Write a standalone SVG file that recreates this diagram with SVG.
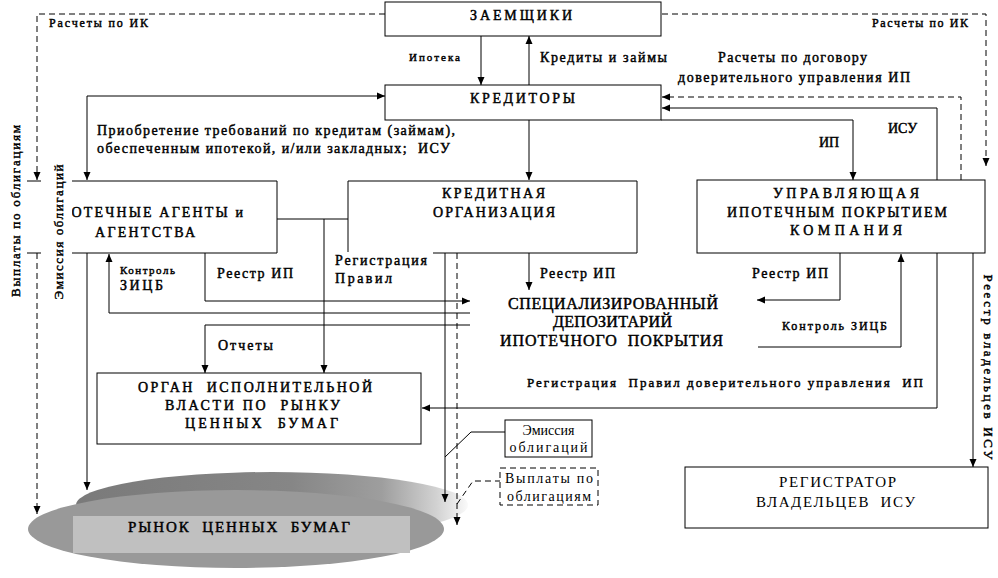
<svg xmlns="http://www.w3.org/2000/svg" width="998" height="578" viewBox="0 0 998 578">
<style>
.t{font-family:"Liberation Serif","Times New Roman","DejaVu Serif",serif;font-weight:normal;fill:#000;stroke:#000;stroke-width:0.45;white-space:pre}
.n{stroke:none}
.s11{font-size:11px}.s12{font-size:12px}.s13{font-size:13px}.s14{font-size:14px}.s15{font-size:15px}.s16{font-size:16px}
.ln{fill:none;stroke:#000;stroke-width:1}
.d{stroke-dasharray:6,4}
.box{fill:#fff;stroke:#000;stroke-width:1}
</style>
<defs>
<marker id="a" viewBox="0 0 8 8" refX="8" refY="4" markerWidth="8" markerHeight="8" markerUnits="userSpaceOnUse" orient="auto-start-reverse"><path d="M0,0.5L8,4L0,7.5z" fill="#000"/></marker>
<linearGradient id="g3d" x1="0" y1="0" x2="1" y2="0">
<stop offset="0" stop-color="#7a7a7a"/><stop offset="0.55" stop-color="#868686"/><stop offset="0.78" stop-color="#9e9e9e"/><stop offset="0.92" stop-color="#d2d2d2"/><stop offset="1" stop-color="#fafafa"/>
</linearGradient>
</defs>
<rect width="998" height="578" fill="#fff"/>

<g id="market">
<ellipse cx="272" cy="505" rx="196" ry="33" fill="url(#g3d)"/>
<ellipse cx="236" cy="529" rx="208" ry="39" fill="#999"/>
<rect x="73" y="516" width="337" height="37" fill="#c0c0c0"/>
<text class="t s15" x="128" y="532" textLength="222">РЫНОК  ЦЕННЫХ  БУМАГ</text>
</g>

<g id="connectors">
<path class="ln d" d="M385,14H37V180" marker-end="url(#a)"/>
<path class="ln d" d="M662,14H986V166" marker-end="url(#a)"/>
<path class="ln" d="M481,36V85" marker-end="url(#a)"/>
<path class="ln" d="M529,85V36" marker-end="url(#a)"/>
<path class="ln" d="M87,180V96H385" marker-start="url(#a)" marker-end="url(#a)"/>
<path class="ln" d="M529,120V180" marker-end="url(#a)"/>
<path class="ln" d="M661,120H853V180" marker-end="url(#a)"/>
<path class="ln" d="M937,180V108H662" marker-end="url(#a)"/>
<path class="ln d" d="M961,180V97H662" marker-end="url(#a)"/>
<path class="ln" d="M87,253V490" marker-end="url(#a)"/>
<path class="ln d" d="M37,253V514" marker-end="url(#a)"/>
<path class="ln" d="M470,313H109V254" marker-end="url(#a)"/>
<path class="ln" d="M205,253V301H470" marker-end="url(#a)"/>
<path class="ln" d="M470,325H205V373" marker-end="url(#a)"/>
<path class="ln" d="M277,219H348"/>
<path class="ln" d="M324,219V373" marker-end="url(#a)"/>
<path class="ln" d="M445,253V502" marker-end="url(#a)"/>
<path class="ln d" d="M457,253V525" marker-end="url(#a)"/>
<path class="ln" d="M529,253V290" marker-end="url(#a)"/>
<path class="ln" d="M840,253V300H757" marker-end="url(#a)"/>
<path class="ln" d="M758,347H901V254" marker-end="url(#a)"/>
<path class="ln" d="M937,253V408H422" marker-end="url(#a)"/>
<path class="ln" d="M973,253V467" marker-end="url(#a)"/>
<path class="ln" stroke-width="0.8" d="M445,457L471,432H505"/>
<path class="ln d" stroke-width="0.8" d="M457,504L473,481H500"/>
</g>

<g id="labels">
<text class="t s12" x="49" y="27" textLength="99">Расчеты по ИК</text>
<text class="t s12" x="872" y="27" textLength="96">Расчеты по ИК</text>
<text class="t s11" x="409" y="61" textLength="51">Ипотека</text>
<text class="t s14" x="540" y="62" textLength="127">Кредиты и займы</text>
<text class="t s14" x="718" y="62" textLength="149">Расчеты по договору</text>
<text class="t s14" x="678" y="82" textLength="232">доверительного управления ИП</text>
<text class="t s14" x="97" y="135" textLength="358">Приобретение требований по кредитам (займам),</text>
<text class="t s14" x="97" y="153" textLength="353">обеспеченным ипотекой, и/или закладных;  ИСУ</text>
<text class="t s14" x="888" y="133">ИСУ</text>
<text class="t s14" x="819" y="147">ИП</text>
<text class="t s11" x="120" y="274" textLength="55">Контроль</text>
<text class="t s14" x="120" y="290" textLength="43">ЗИЦБ</text>
<text class="t s14" x="217" y="278" textLength="76">Реестр ИП</text>
<text class="t s14" x="335" y="265" textLength="92">Регистрация</text>
<text class="t s14" x="335" y="283" textLength="57">Правил</text>
<text class="t s14" x="218" y="350" textLength="55">Отчеты</text>
<text class="t s14" x="540" y="278" textLength="75">Реестр ИП</text>
<text class="t s14" x="752" y="278" textLength="76">Реестр ИП</text>
<text class="t s12" x="782" y="330" textLength="105">Контроль ЗИЦБ</text>
<text class="t s13" x="527" y="387" textLength="396">Регистрация  Правил доверительного управления  ИП</text>
<text class="t s13" transform="translate(984,367) rotate(90)" text-anchor="middle" textLength="185">Реестр владельцев ИСУ</text>
</g>

<g id="zaemshiki">
<rect class="box" x="385" y="2" width="276" height="34"/>
<text class="t s14" x="470" y="20" textLength="102">ЗАЕМЩИКИ</text>
</g>

<g id="kreditory">
<rect class="box" x="385" y="85" width="276" height="35"/>
<text class="t s14" x="470" y="103" textLength="105">КРЕДИТОРЫ</text>
</g>

<g id="agenty">
<path class="ln" d="M27,181H277V253H27"/>
<text class="t s14" x="47" y="217" textLength="196">ИПОТЕЧНЫЕ АГЕНТЫ и</text>
<text class="t s14" x="95" y="237" textLength="100">АГЕНТСТВА</text>
</g>

<g id="kreditnaya">
<path class="ln" d="M433,253H637V181H348V252"/>
<text class="t s14" x="442" y="198" textLength="103">КРЕДИТНАЯ</text>
<text class="t s14" x="433" y="217" textLength="122">ОРГАНИЗАЦИЯ</text>
</g>

<g id="uk">
<rect class="box" x="697" y="180" width="288" height="73"/>
<text class="t s14" x="773" y="198" textLength="146">УПРАВЛЯЮЩАЯ</text>
<text class="t s14" x="727" y="217" textLength="220">ИПОТЕЧНЫМ ПОКРЫТИЕМ</text>
<text class="t s14" x="790" y="235" textLength="112">КОМПАНИЯ</text>
</g>

<g id="depozitariy">
<text class="t s16" x="508" y="309" textLength="210">СПЕЦИАЛИЗИРОВАННЫЙ</text>
<text class="t s16" x="553" y="327" textLength="119">ДЕПОЗИТАРИЙ</text>
<text class="t s16" x="500" y="346" textLength="223">ИПОТЕЧНОГО  ПОКРЫТИЯ</text>
</g>

<g id="organ">
<rect class="box" x="97" y="373" width="324" height="71"/>
<text class="t s14" x="138" y="392" textLength="234">ОРГАН  ИСПОЛНИТЕЛЬНОЙ</text>
<text class="t s14" x="165" y="410" textLength="175">ВЛАСТИ ПО  РЫНКУ</text>
<text class="t s14" x="185" y="428" textLength="153">ЦЕННЫХ  БУМАГ</text>
</g>

<g id="emissiya">
<rect class="box" x="505" y="420" width="87" height="37"/>
<text class="t s14 n" x="548.5" y="435" text-anchor="middle">Эмиссия</text>
<text class="t s14 n" x="548.5" y="452" text-anchor="middle" textLength="78">облигаций</text>
</g>

<g id="vyplaty">
<rect class="box d" x="500" y="468" width="98" height="37"/>
<text class="t s14 n" x="549" y="483" text-anchor="middle" textLength="88">Выплаты по</text>
<text class="t s14 n" x="549" y="501" text-anchor="middle" textLength="84">облигациям</text>
</g>

<g id="registrator">
<rect class="box" x="685" y="467" width="303" height="61"/>
<text class="t s15 n" x="779" y="487" textLength="117">РЕГИСТРАТОР</text>
<text class="t s15 n" x="756" y="507" textLength="159">ВЛАДЕЛЬЦЕВ  ИСУ</text>
</g>

<g id="vertical-labels">
<rect x="41" y="160" width="31" height="145" fill="#fff"/>
<text class="t s13" transform="translate(20,211) rotate(-90)" text-anchor="middle" textLength="172">Выплаты по облигациям</text>
<text class="t s13" transform="translate(63,232) rotate(-90)" text-anchor="middle" textLength="135">Эмиссия облигаций</text>
</g>
</svg>
